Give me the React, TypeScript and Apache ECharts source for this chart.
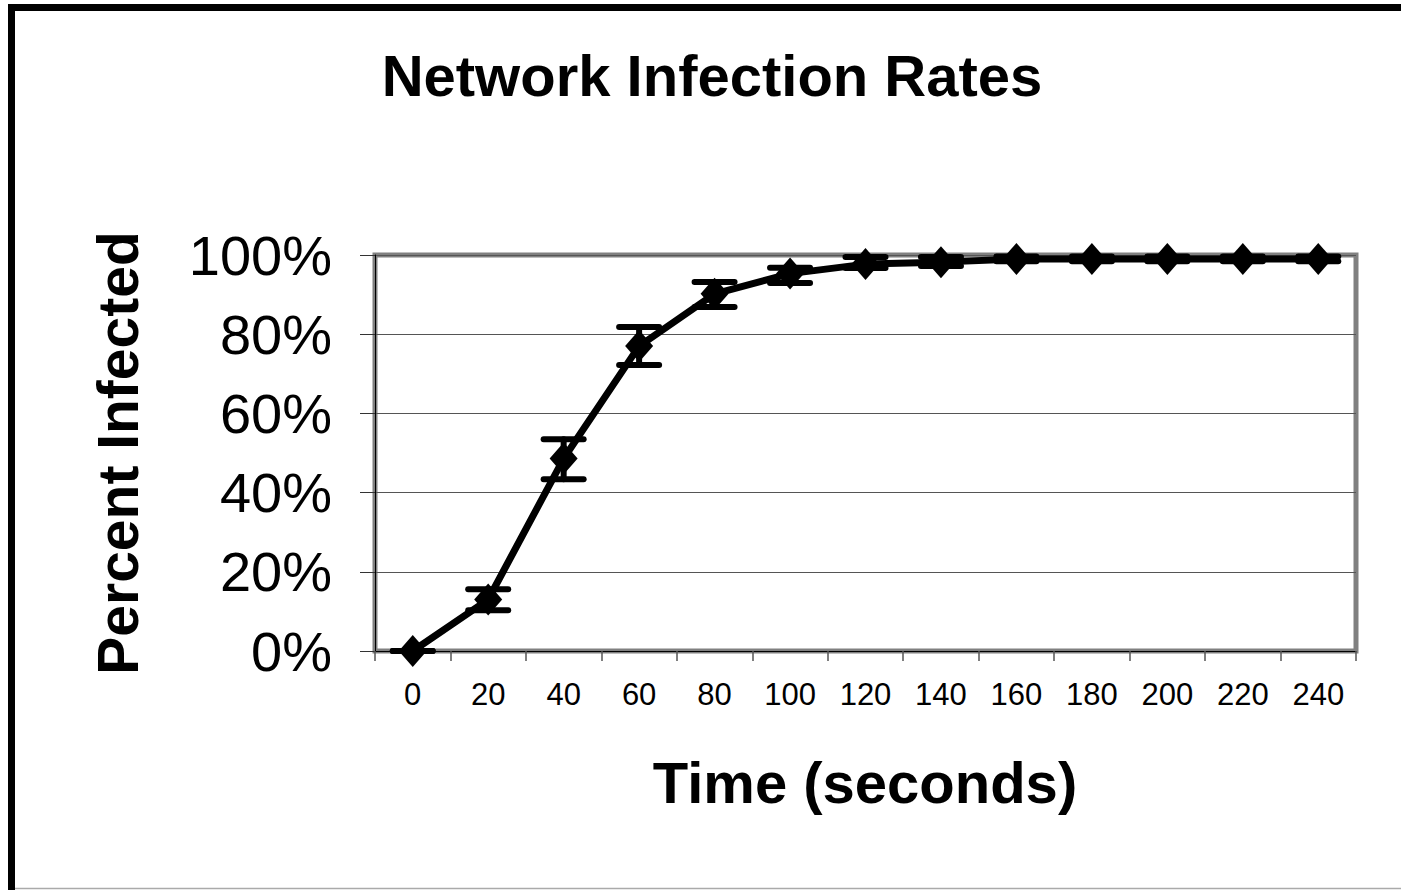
import React, { useEffect, useRef } from "react";
import * as echarts from "echarts";

const categories = ["0", "20", "40", "60", "80", "100", "120", "140", "160", "180", "200", "220", "240"];
const meanValues = [0, 13, 48.6, 77, 90.2, 95.3, 97.7, 98.2, 99, 99, 99, 99, 99];
const lowerValues = [0, 10.3, 43.4, 72.2, 86.9, 92.9, 96.7, 97.2, 98.4, 98.4, 98.4, 98.4, 98.4];
const upperValues = [0, 15.6, 53.5, 81.8, 93.2, 96.8, 99.5, 99.5, 99.6, 99.6, 99.6, 99.6, 99.6];
const yTicks = [0, 20, 40, 60, 80, 100];

const FONT = "'Liberation Sans', Arial, Helvetica, sans-serif";

export default function App() {
  const ref = useRef<HTMLDivElement>(null);
  useEffect(() => {
    if (!ref.current) return;
    const chart = echarts.init(ref.current, null, { renderer: "svg" });
    const errData = categories.map((_, i) => [i, lowerValues[i], upperValues[i]]);
    chart.setOption({
      animation: false,
      backgroundColor: "#ffffff",
      grid: {
        left: 375,
        top: 255,
        width: 981,
        height: 396,
        show: true,
        borderColor: "#808080",
        borderWidth: 5,
        backgroundColor: "transparent",
        containLabel: false,
      },
      xAxis: {
        type: "category",
        data: categories,
        boundaryGap: true,
        axisLine: { show: true, lineStyle: { color: "#000", width: 1 } },
        axisTick: { show: true, length: 10, inside: false, lineStyle: { color: "#555", width: 1.5 } },
        axisLabel: { color: "#000", fontSize: 31, fontFamily: FONT, margin: 28, interval: 0 },
        splitLine: { show: false },
      },
      yAxis: {
        type: "value",
        min: yTicks[0],
        max: yTicks[yTicks.length - 1],
        interval: 20,
        axisLine: { show: true, lineStyle: { color: "#000", width: 1 } },
        axisTick: { show: true, length: 15, lineStyle: { color: "#333", width: 1 } },
        axisLabel: { color: "#000", fontSize: 56, fontFamily: FONT, margin: 43, formatter: "{value}%" },
        splitLine: { show: true, lineStyle: { color: "#555", width: 1.2 } },
      },
      graphic: [
        { type: "line", shape: { x1: 11.5, y1: 4, x2: 11.5, y2: 890 }, style: { stroke: "#000", lineWidth: 7 } },
        { type: "line", shape: { x1: 8, y1: 7.5, x2: 1401, y2: 7.5 }, style: { stroke: "#000", lineWidth: 7 } },
        { type: "line", shape: { x1: 15, y1: 888.5, x2: 1401, y2: 888.5 }, style: { stroke: "#aaa", lineWidth: 1.5 } },
        {
          type: "text",
          x: 712,
          y: 75,
          style: {
            text: "Network Infection Rates",
            fontSize: 58,
            fontWeight: "bold",
            fontFamily: FONT,
            fill: "#000",
            textAlign: "center",
            textVerticalAlign: "middle",
          },
        },
        {
          type: "text",
          x: 118,
          y: 453,
          rotation: Math.PI / 2,
          style: {
            text: "Percent Infected",
            fontSize: 57,
            fontWeight: "bold",
            fontFamily: FONT,
            fill: "#000",
            textAlign: "center",
            textVerticalAlign: "middle",
          },
        },
        {
          type: "text",
          x: 865,
          y: 782,
          style: {
            text: "Time (seconds)",
            fontSize: 58,
            fontWeight: "bold",
            fontFamily: FONT,
            fill: "#000",
            textAlign: "center",
            textVerticalAlign: "middle",
          },
        },
      ],
      series: [
        {
          type: "custom",
          data: errData,
          encode: { x: 0, y: [1, 2] },
          z: 3,
          renderItem: (params: any, api: any) => {
            const i = api.value(0);
            const lo = api.coord([i, api.value(1)]);
            const hi = api.coord([i, api.value(2)]);
            const hw = 20;
            const style = { stroke: "#000", lineWidth: 6, lineCap: "round" };
            return {
              type: "group",
              children: [
                { type: "line", shape: { x1: lo[0], y1: lo[1], x2: hi[0], y2: hi[1] }, style },
                { type: "line", shape: { x1: hi[0] - hw, y1: hi[1], x2: hi[0] + hw, y2: hi[1] }, style },
                { type: "line", shape: { x1: lo[0] - hw, y1: lo[1], x2: lo[0] + hw, y2: lo[1] }, style },
              ],
            };
          },
        },
        {
          type: "line",
          data: meanValues,
          z: 4,
          symbol: "diamond",
          symbolSize: [28, 32],
          showSymbol: true,
          itemStyle: { color: "#000" },
          lineStyle: { color: "#000", width: 7 },
        },
      ],
    });
    return () => chart.dispose();
  }, []);
  return (
    <div
      ref={ref}
      style={{ position: "fixed", left: 0, top: 0, width: 1401, height: 890, background: "#fff" }}
    />
  );
}
